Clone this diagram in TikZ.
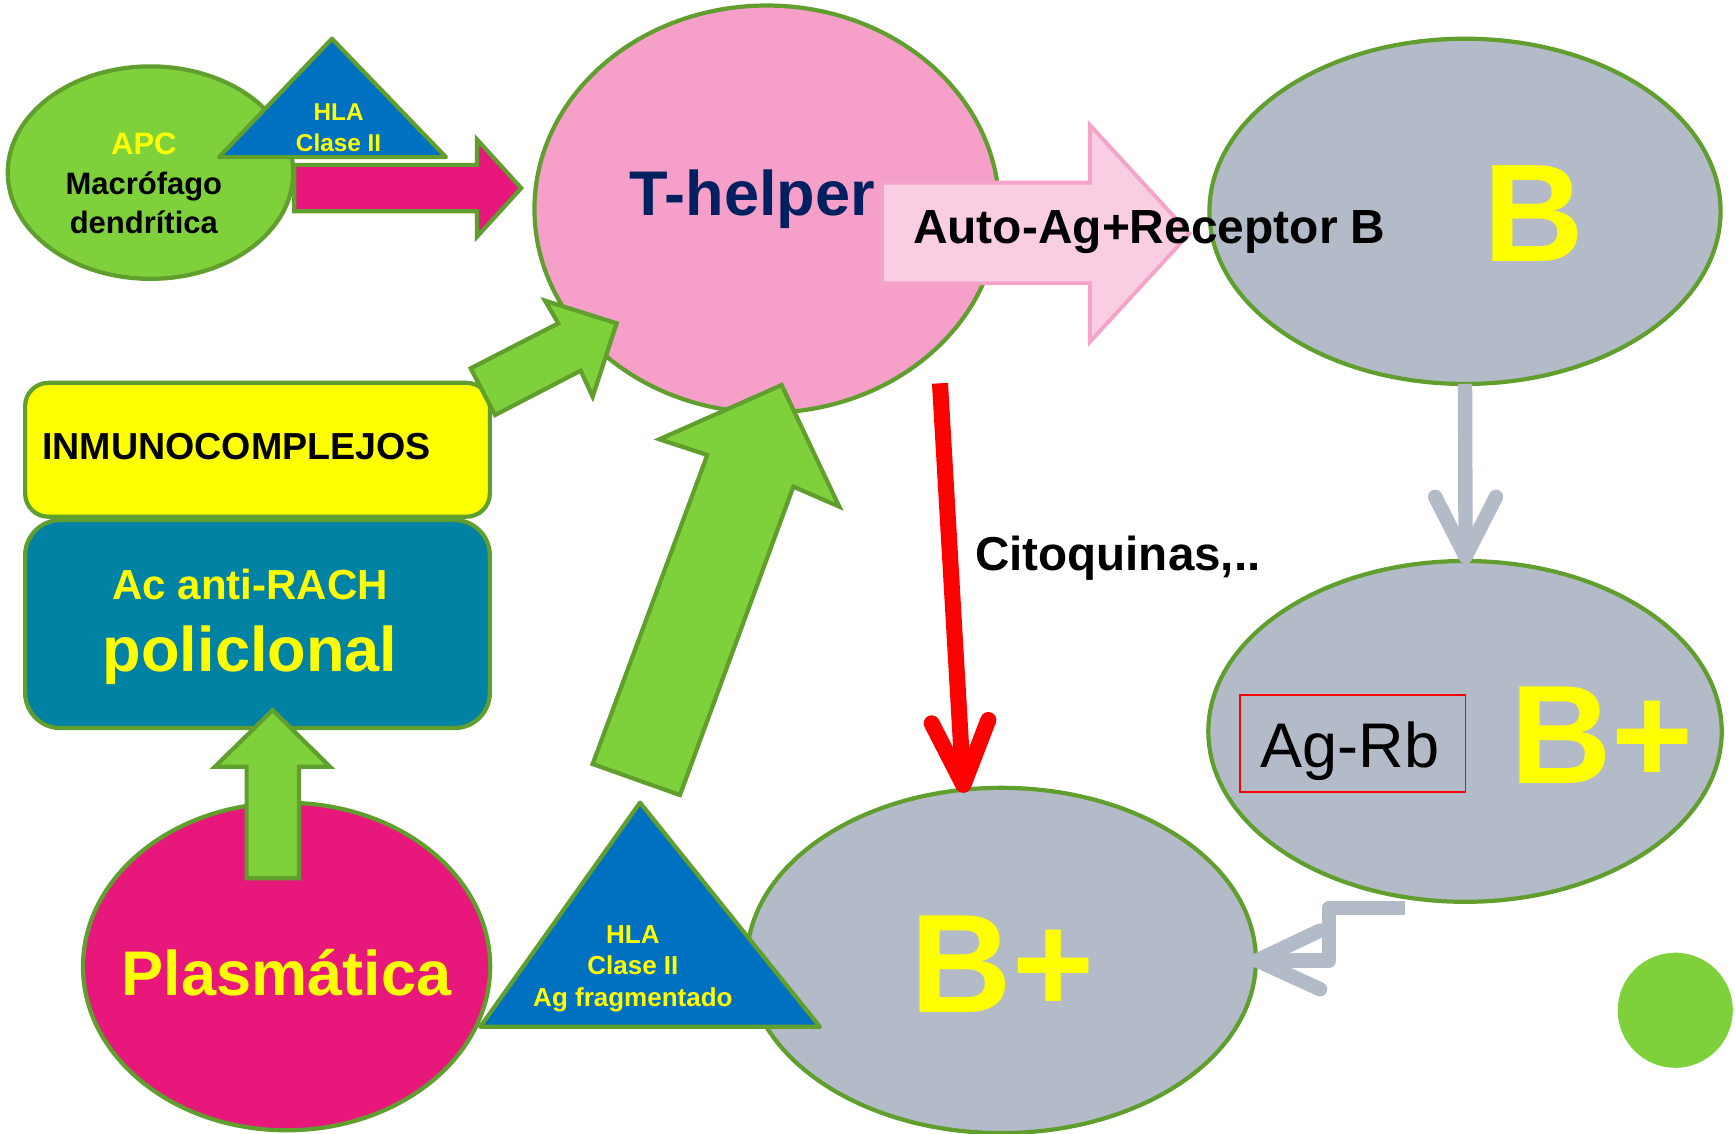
\documentclass[tikz,border=0pt]{standalone}
\usepackage{fontspec}
\setmainfont{Liberation Sans}
\usetikzlibrary{shapes.geometric,calc}
\definecolor{gfill}{RGB}{127,209,59}
\definecolor{gline}{RGB}{96,158,45}
\definecolor{magfill}{RGB}{232,23,123}
\definecolor{tpink}{RGB}{246,159,201}
\definecolor{lpink}{RGB}{249,205,226}
\definecolor{lpinkline}{RGB}{245,163,201}
\definecolor{hlablue}{RGB}{0,112,192}
\definecolor{acteal}{RGB}{0,130,164}
\definecolor{cellgrey}{RGB}{180,187,200}
\definecolor{tnavy}{RGB}{0,32,96}
\definecolor{yel}{RGB}{255,255,0}
\definecolor{redc}{RGB}{255,0,0}
\newcommand\fsz[1]{\fontsize{#1}{#1}\selectfont}
\tikzset{
  cell/.style={ellipse, draw=gline, line width=3.8pt, inner sep=0pt, outer sep=0pt},
  tri/.style={fill=hlablue, draw=gline, line width=3.8pt, line join=round},
  blk/.style={fill=gfill, draw=gline, line width=3.8pt, line join=miter},
  box/.style={draw=gline, line width=3.8pt, inner sep=0pt},
  txt/.style={inner sep=0pt, anchor=base},
  greyline/.style={draw=cellgrey, line width=13pt, line cap=butt, line join=round},
  greychev/.style={draw=cellgrey, line width=13pt, line cap=round, line join=round},
  redline/.style={draw=redc, line width=14.5pt, line cap=butt},
  redchev/.style={draw=redc, line width=14.5pt, line cap=round, line join=round},
}
\begin{document}
\begin{tikzpicture}[x=1pt,y=-1pt]
\useasboundingbox (0,0) rectangle (1568,1024);
\fill[white] (0,0) rectangle (1568,1024);

% T-helper
\node[cell, fill=tpink, minimum width=420pt, minimum height=368pt] (thelper) at (693,189) {};

% APC + HLA + magenta arrow
\node[cell, fill=gfill, minimum width=258pt, minimum height=192pt] (apc) at (136,156) {};
\coordinate (t1a) at (300,35);
\coordinate (t1l) at (198,142);
\coordinate (t1r) at (403,142);
\draw[tri] (t1a) -- (t1l) -- (t1r) -- cycle;
\draw[blk, fill=magfill] (266,149) -- (431,149) -- (431,126) -- (471,170) -- (431,214) -- (431,191) -- (266,191) -- cycle;

% B cell
\node[cell, fill=cellgrey, minimum width=462pt, minimum height=312pt] (bcell) at (1324,191) {};

% light pink arrow
\draw[fill=lpink, draw=lpinkline, line width=3.5pt] (797,165) -- (985,165) -- (985,113) -- (1075,211) -- (985,309) -- (985,256) -- (797,256) -- cycle;

% boxes
\node[box, fill=yel, rounded corners=21pt, minimum width=420pt, minimum height=121pt] (immuno) at (232.7,406.5) {};
\node[box, fill=acteal, rounded corners=32pt, minimum width=420pt, minimum height=188pt] (acbox) at (232.7,564) {};

% green block arrows to T-helper
\draw[blk] (425.4,332.9) -- (504.6,292.2) -- (492.5,271.7) -- (557.3,292.2) -- (535.6,358.5) -- (524.8,335) -- (447.4,375.1) -- cycle;
\draw[blk] (535.6,690.5) -- (639.2,411.2) -- (595.9,397) -- (706.4,348) -- (758.5,457.9) -- (717,439.8) -- (614.5,718.5) -- cycle;

% Plasmatica
\node[cell, fill=magfill, minimum width=368pt, minimum height=296pt] (plasma) at (259,873.5) {};
\draw[blk] (222.9,793.8) -- (222.9,692.9) -- (194.3,692.9) -- (246.4,641.7) -- (298.2,692.9) -- (270.2,692.9) -- (270.2,793.8) -- cycle;

% B+ cells
\node[cell, fill=cellgrey, minimum width=460pt, minimum height=312pt] (bplusB) at (905,868) {};
\node[cell, fill=cellgrey, minimum width=464pt, minimum height=308pt] (bplusR) at (1324,661) {};

% bottom HLA triangle
\coordinate (t2a) at (578.4,725.4);
\coordinate (t2l) at (434,928);
\coordinate (t2r) at (741,928);
\draw[tri] (t2a) -- (t2l) -- (t2r) -- cycle;

% red arrow
\coordinate (redstart) at (849.5,346.4);
\coordinate (redtip) at (870.6,709.4);
\draw[redline] (redstart) -- (redtip);
\draw[redchev] (842,653.7) -- (redtip) -- (893.2,650.7);

% grey arrow B -> B+
\coordinate (g1t) at (1324.5,503);
\draw[greyline] (bcell.south) -- (g1t);
\draw[greychev] ($(g1t)+(-27.5,-54)$) -- (g1t) -- ($(g1t)+(27.5,-54)$);

% grey bent arrow B+ -> B+
\coordinate (g2s) at (1270,820.5);
\coordinate (g2t) at (1136,868);
\draw[greyline] (g2s) -- (1201,820.5) -- (1201,868) -- (g2t);
\draw[greychev] ($(g2t)+(57,-27)$) -- (g2t) -- ($(g2t)+(57,26)$);

% green dot
\node[circle, fill=gfill, minimum size=104pt, inner sep=0pt] (dot) at (1514,913) {};

% Ag-Rb box
\node[draw=redc, line width=1.5pt, minimum width=204pt, minimum height=88pt, inner sep=0pt] (agrb) at (1222.4,672) {};

% texts
\node[txt, font=\fsz{28}\bfseries, text=yel] (tapc) at (130,140) {APC};
\node[txt, font=\fsz{28}\bfseries] (tmac) at (130,176) {Macrófago};
\node[txt, font=\fsz{28}\bfseries] (tden) at (130,211) {dendrítica};
\node[txt, font=\fsz{22}\bfseries, text=yel] (thla1) at (306,109) {HLA};
\node[txt, font=\fsz{22}\bfseries, text=yel] (tcl1) at (306,137) {Clase II};
\node[txt, font=\fsz{57}\bfseries, text=tnavy] (tth) at (680,194.5) {T-helper};
\node[txt, anchor=base west, font=\fsz{43.3}\bfseries] (tauto) at (825,220.5) {Auto-Ag+Receptor B};
\node[txt, font=\fsz{126}\bfseries, text=yel] (tb) at (1386,236) {B};
\node[txt, font=\fsz{57}] (tagrb) at (1220,694) {Ag-Rb};
\node[txt, font=\fsz{127}\bfseries, text=yel] (tbpr) at (1448,708.5) {B+};
\node[txt, anchor=base west, font=\fsz{43}\bfseries] (tcito) at (881,516) {Citoquinas,..};
\node[txt, font=\fsz{127}\bfseries, text=yel] (tbpb) at (906,915) {B+};
\node[txt, font=\fsz{57}\bfseries, text=yel] (tplas) at (259,900) {Plasmática};
\node[txt, font=\fsz{23.5}\bfseries, text=yel] (thla2) at (572,853) {HLA};
\node[txt, font=\fsz{23.5}\bfseries, text=yel] (tcl2) at (572,881) {Clase II};
\node[txt, font=\fsz{23.5}\bfseries, text=yel] (tagf) at (572,910) {Ag fragmentado};
\node[txt, anchor=base west, font=\fsz{34}\bfseries] (timm) at (38,415) {INMUNOCOMPLEJOS};
\node[txt, font=\fsz{38}\bfseries, text=yel] (tac) at (226,541.6) {Ac anti-RACH};
\node[txt, font=\fsz{57}\bfseries, text=yel] (tpol) at (226,607) {policlonal};
\end{tikzpicture}
\end{document}
